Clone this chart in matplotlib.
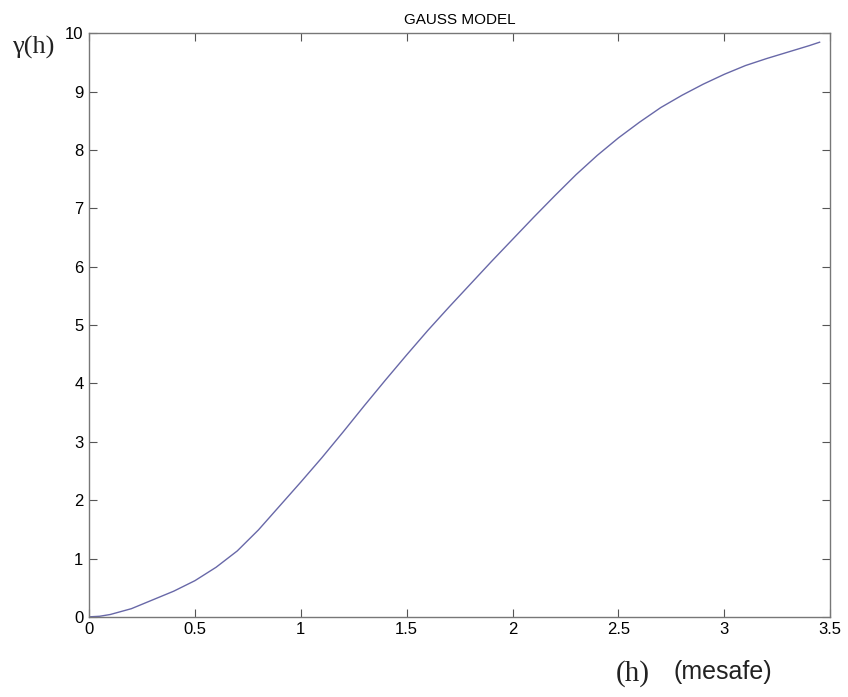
import numpy as np
import matplotlib.pyplot as plt

# values (distance h, semivariance gamma(h))
h_vals = [0.0, 0.05, 0.1, 0.2, 0.3, 0.4, 0.5, 0.6, 0.7, 0.8, 0.9, 1.0,
          1.1, 1.2, 1.3, 1.4, 1.5, 1.6, 1.7, 1.8, 1.9, 2.0, 2.1, 2.2,
          2.3, 2.4, 2.5, 2.6, 2.7, 2.8, 2.9, 3.0, 3.1, 3.2, 3.3, 3.4, 3.45]
gamma_vals = [0.0, 0.01, 0.04, 0.14, 0.29, 0.44, 0.62, 0.85, 1.13, 1.49, 1.90, 2.31,
              2.73, 3.17, 3.62, 4.06, 4.49, 4.91, 5.31, 5.70, 6.09, 6.47, 6.85, 7.22,
              7.58, 7.91, 8.21, 8.48, 8.73, 8.94, 9.13, 9.30, 9.45, 9.57, 9.68, 9.79, 9.85]

x_ticks = [0, 0.5, 1, 1.5, 2, 2.5, 3, 3.5]
x_ticklabels = ["0", "0.5", "1", "1.5", "2", "2.5", "3", "3.5"]
y_ticks = list(range(0, 11))

plt.rcParams["font.family"] = ["Liberation Sans", "DejaVu Sans"]

fig = plt.figure(figsize=(8.48, 6.97), dpi=100)
ax = fig.add_axes([0.105, 0.115, 0.874, 0.837])

ax.plot(h_vals, gamma_vals, color="#6868a8", lw=1.0)

ax.set_xlim(0, 3.5)
ax.set_ylim(0, 10)
ax.set_xticks(x_ticks)
ax.set_xticklabels(x_ticklabels)
ax.set_yticks(y_ticks)
ax.tick_params(direction="in", top=True, right=True, length=6, width=0.8,
               color="#555555", labelsize=12, pad=4)
for s in ax.spines.values():
    s.set_color("#777777")
    s.set_linewidth(1.0)

ax.set_title("GAUSS MODEL", fontsize=11, pad=7)

fig.text(33 / 848, 1 - 47 / 697, "γ(h)", family="Liberation Serif", fontsize=19,
         ha="center", va="center", color="#222222")
fig.text(633 / 848, 1 - 674 / 697, "(h)", family="Liberation Serif", fontsize=21,
         ha="center", va="center", color="#222222")
fig.text(723 / 848, 1 - 672 / 697, "(mesafe)", fontsize=18,
         ha="center", va="center", color="#222222")

fig.savefig("out.png", dpi=100)
